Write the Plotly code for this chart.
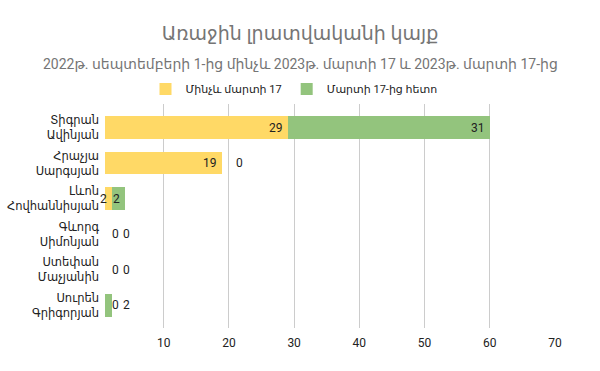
import plotly.graph_objects as go

# ---- data ----
candidates = [
    "Տիգրան Ավինյան",
    "Հրաչյա Սարգսյան",
    "Լևոն Հովհաննիսյան",
    "Գևորգ Սիմոնյան",
    "Ստեփան Մաչյանին",
    "Սուրեն Գրիգորյան",
]
before_mar17 = [29, 19, 2, 0, 0, 0]
after_mar17 = [31, 0, 2, 0, 0, 2]
series_names = ["Մինչև մարտի 17", "Մարտի 17-ից հետո"]
title_text = "Առաջին լրատվականի կայք"
subtitle_text = "2022թ. սեպտեմբերի 1-ից մինչև 2023թ. մարտի 17 և 2023թ. մարտի 17-ից"
x_ticks = [10, 20, 30, 40, 50, 60, 70]

# ---- style ----
YELLOW = "#FFD966"
GREEN = "#93C47D"
FONT = "Roboto, DejaVu Sans, sans-serif"
X_MIN, X_MAX = 1, 70
L, R, T, B = 105, 45, 102, 43
W, H = 600, 371
plot_w = W - L - R
plot_h = H - T - B
px_per_unit = plot_w / (X_MAX - X_MIN)

labels = [c.replace(" ", "<br>") for c in candidates]

fig = go.Figure()
fig.add_trace(go.Bar(y=labels, x=before_mar17, orientation="h", name=series_names[0],
                     marker=dict(color=YELLOW, line=dict(width=0))))
fig.add_trace(go.Bar(y=labels, x=after_mar17, orientation="h", name=series_names[1],
                     marker=dict(color=GREEN, line=dict(width=0))))

# ---- data labels (Google-charts-like placement) ----
annotations = []
INSIDE_SHIFT = -3
OUTSIDE_GAP = 11.5
for i, lab in enumerate(labels):
    yv = before_mar17[i]
    gv = after_mar17[i]
    y_end = yv
    g_end = yv + gv
    y_out = yv <= 0
    if not y_out:
        yx, yanc, ysh = y_end, "right", INSIDE_SHIFT
    else:
        clip = max(y_end, X_MIN)
        yx, yanc, ysh = clip, "left", OUTSIDE_GAP - (clip - y_end) * px_per_unit
    annotations.append(dict(x=yx, y=lab, text=str(yv), showarrow=False, xanchor=yanc,
                            xshift=ysh, font=dict(size=12, color="#222222", family=FONT)))
    vis_w = (g_end - max(y_end, X_MIN)) * px_per_unit
    if gv > 0 and vis_w >= 10:
        gx, ganc, gsh = g_end, "right", INSIDE_SHIFT
    elif y_out:
        gx, ganc, gsh = yx, "left", ysh + 10.6
    else:
        clip = max(g_end, X_MIN)
        gx, ganc, gsh = clip, "left", OUTSIDE_GAP - (clip - g_end) * px_per_unit
    annotations.append(dict(x=gx, y=lab, text=str(gv), showarrow=False, xanchor=ganc,
                            xshift=gsh, font=dict(size=12, color="#222222", family=FONT)))

# subtitle as a paper-referenced annotation, centred on the page
annotations.append(dict(x=(W / 2 - L) / plot_w, xref="paper", y=1 + (T - 62) / plot_h, yref="paper",
                        xanchor="center", yanchor="middle", showarrow=False,
                        text=subtitle_text, font=dict(size=14, color="#757575", family=FONT)))

row_px = 35.8
span = plot_h / row_px
top_off = (126.3 - T) / row_px

fig.update_layout(
    width=W, height=H,
    barmode="stack",
    bargap=0.366,
    plot_bgcolor="white", paper_bgcolor="white",
    margin=dict(l=L, r=R, t=T, b=B, pad=0),
    font=dict(family=FONT, size=12, color="#222222"),
    title=dict(
        text=title_text,
        x=0.5, xanchor="center", xref="container",
        y=1 - 33 / H, yanchor="middle", yref="container",
        font=dict(size=19, color="#757575", family=FONT),
    ),
    legend=dict(orientation="h", xref="container", yref="container", x=0.49, xanchor="center",
                y=1 - 89 / H, yanchor="middle", font=dict(size=11, color="#222222"),
                traceorder="normal", itemclick=False),
    xaxis=dict(range=[X_MIN, X_MAX], tickvals=x_ticks, showgrid=True, gridcolor="#CCCCCC",
               gridwidth=1, zeroline=False, showline=False, ticks="", automargin=False,
               tickfont=dict(size=12, color="#222222"), ticklabelstandoff=6),
    yaxis=dict(type="category", range=[span - top_off, -top_off], showgrid=False,
               zeroline=False, showline=False, ticks="", automargin=False,
               tickfont=dict(size=11.5, color="#222222"), ticklabelstandoff=5),
    annotations=annotations,
    showlegend=True,
)

fig.write_html("out.html", config={"displayModeBar": False},
               post_script="document.body.style.margin='0';")
